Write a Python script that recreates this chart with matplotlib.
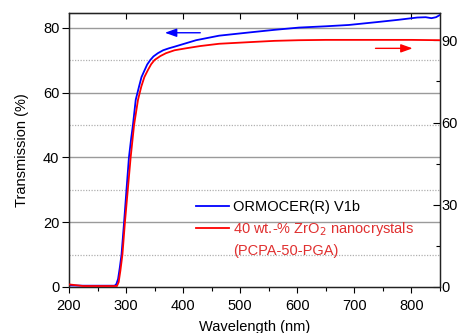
import matplotlib
matplotlib.use("Agg")
import matplotlib.pyplot as plt
from matplotlib.ticker import MultipleLocator
from matplotlib.lines import Line2D

plt.rcParams['font.family'] = ['Liberation Sans', 'DejaVu Sans']

# Data
wl_blue = [200, 225, 250, 280, 283, 286, 289, 292, 296.5, 300.7, 305, 309, 312, 316.9, 322.7,
           327, 332.6, 337, 342.5, 348, 355.8, 365, 375, 384.9, 400, 422.7, 463, 516,
           560, 603, 650, 690, 740, 777, 810, 825, 835, 843, 850]
t_blue = [0.5, 0.4, 0.4, 0.4, 0.9, 2.5, 6, 10, 20, 30, 40, 46, 50, 57.8, 61.9,
          64.8, 67.0, 68.7, 70.1, 71.2, 72.2, 73.1, 73.7, 74.2, 75.0, 76.2, 77.6, 78.6,
          79.4, 80.1, 80.5, 80.9, 81.8, 82.5, 83.2, 83.3, 83.0, 83.3, 84.0]

wl_red = [200, 225, 250, 284, 287, 290, 293.6, 298, 303, 308, 314, 320.9, 326.7,
          332, 338.3, 344, 350, 360, 370, 385, 405, 430, 463, 516, 560, 603, 650, 700, 750, 800, 850]
# left-axis equivalent values, converted to right-axis scale below
t_red_left = [0.8, 0.3, 0.3, 0.3, 1.5, 5, 10, 20, 30, 40, 50, 57.8, 61.9,
              64.8, 67.0, 68.8, 70.1, 71.3, 72.2, 73.1, 73.7, 74.4, 75.1, 75.6, 76.0, 76.2, 76.3, 76.3, 76.3, 76.3, 76.2]
t_red = [v * 100 / 84.6 for v in t_red_left]

label_blue = "ORMOCER(R) V1b"
label_red = "40 wt.-% ZrO$_2$ nanocrystals"
label_red2 = "(PCPA-50-PGA)"
x_ticks = [200, 300, 400, 500, 600, 700, 800]
y_left_ticks = [0, 20, 40, 60, 80]
y_right_ticks = [0, 30, 60, 90]

fig = plt.figure(figsize=(4.59, 3.33), dpi=100)
ax = fig.add_axes([69/459, 1-287/333, 371/459, 274/333])
ax2 = ax.twinx()

ax.set_xlim(200, 850)
ax.set_ylim(0, 84.6)
ax2.set_ylim(0, 100)

# grid
for v in [20, 40, 60, 80]:
    ax.axhline(v, color='#9a9a9a', lw=1.0, zorder=0)
for v in [10, 30, 50, 70]:
    ax.axhline(v, color='#b0b0b0', lw=0.9, ls=(0, (1, 1.2)), zorder=0)

lb, = ax.plot(wl_blue, t_blue, color='#0000ff', lw=1.3, zorder=3)
lr, = ax2.plot(wl_red, t_red, color='#ff0000', lw=1.3, zorder=3)

ax.set_xticks(x_ticks)
ax.xaxis.set_minor_locator(MultipleLocator(50))
ax.set_yticks(y_left_ticks)
ax2.set_yticks(y_right_ticks)
ax2.yaxis.set_minor_locator(MultipleLocator(15))

ax.tick_params(axis='x', which='major', direction='out', length=4, width=0.8, labelsize=10.5, pad=5, top=False)
ax.tick_params(axis='x', which='minor', direction='out', length=3, width=0.8, top=False)
ax.tick_params(axis='y', which='major', direction='out', length=5, width=0.8, labelsize=10.5, pad=2)
ax2.tick_params(axis='y', which='major', direction='in', length=5, width=0.8, labelsize=10.5, pad=1)
ax2.tick_params(axis='y', which='minor', direction='in', length=3, width=0.8)

top = ax.secondary_xaxis('top')
top.set_xticks(x_ticks)
top.tick_params(axis='x', direction='in', length=4, width=0.8, labeltop=False)

for a in (ax, ax2):
    for s in a.spines.values():
        s.set_linewidth(0.9)
        s.set_color('#222222')

ax.set_xlabel("Wavelength (nm)", fontsize=10.5, labelpad=5)
ax.set_ylabel("Transmission (%)", fontsize=10.5, labelpad=10)

# arrows
ax.annotate("", xy=(368, 78.5), xytext=(430, 78.5),
            arrowprops=dict(arrowstyle="-|>,head_length=0.7,head_width=0.25",
                            color='#0000ff', lw=1.0, shrinkA=0, shrinkB=0))
ax2.annotate("", xy=(802, 87.1), xytext=(737, 87.1),
             arrowprops=dict(arrowstyle="-|>,head_length=0.7,head_width=0.25",
                             color='#ff0000', lw=1.0, shrinkA=0, shrinkB=0))

# legend
blank = Line2D([], [], color='none')
leg = ax.legend([lb, lr, blank], [label_blue, label_red, label_red2], loc='upper left',
                bbox_to_anchor=(0.343, 0.318), frameon=False, fontsize=10.5,
                handlelength=2.25, handletextpad=0.3, borderpad=0, borderaxespad=0,
                labelspacing=0.42)
leg.get_texts()[1].set_color('#e03030')
leg.get_texts()[2].set_color('#e03030')
leg.set_zorder(5)

fig.savefig("out.png", dpi=100)
